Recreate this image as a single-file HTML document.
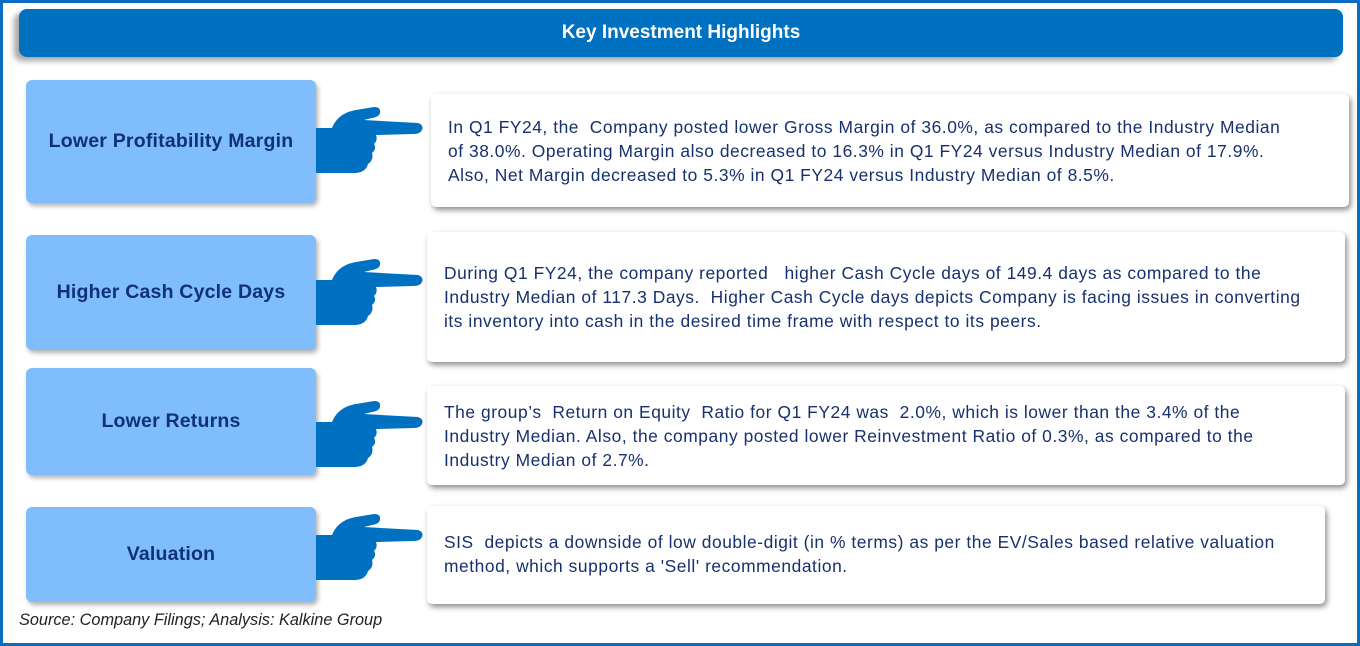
<!DOCTYPE html>
<html><head><meta charset="utf-8"><style>
body{margin:0;width:1360px;height:646px;background:#fff;font-family:"Liberation Sans",sans-serif;position:relative;overflow:hidden}
.frame{position:absolute;left:0;top:0;width:1354px;height:640px;border:3px solid #0a6cc0}
.hdr{position:absolute;left:19px;top:9px;width:1324px;height:48px;background:#0070c0;border-radius:8px;box-shadow:-5px 4px 6px rgba(0,0,0,.35);color:#fff;font-weight:bold;font-size:19px;text-align:center;line-height:48px}
.lb{position:absolute;left:26px;width:290px;background:#7fbdfc;border-radius:6px;box-shadow:2px 3px 5px rgba(0,0,0,.3);color:#10307a;font-weight:bold;font-size:19.5px;display:flex;align-items:center;justify-content:center;letter-spacing:0.2px}
.rb{position:absolute;background:#fff;border-radius:5px;box-shadow:2px 3px 6px rgba(0,0,0,.45);color:#17306e;font-size:17.4px;letter-spacing:0.55px;line-height:24px;padding-left:17px;padding-right:20px;box-sizing:border-box;display:flex;align-items:center;white-space:nowrap}
.hand{position:absolute;width:110px;height:70px}
.src{position:absolute;left:19px;top:611px;font-style:italic;font-size:16.3px;color:#222}
</style></head><body>
<div class="frame"></div>
<div class="hdr">Key Investment Highlights</div>

<div class="lb" style="top:80px;height:123px">Lower Profitability Margin</div>
<div class="lb" style="top:235px;height:115px">Higher Cash Cycle Days</div>
<div class="lb" style="top:368px;height:107px">Lower Returns</div>
<div class="lb" style="top:507px;height:95px">Valuation</div>

<svg class="hand" style="left:316px;top:106px" viewBox="0 0 110 70"><path fill="#0070c0" d="M0,22 L16,22 C20,12 28,6 40,4 L58,1 Q65,1 64,7 Q63,11 56,12 L48,14 L102,17 Q108,19 106,24 Q104,28 98,28 L60,29 Q62,34 58,38 Q61,43 56,47 Q58,54 52,58 Q50,66 40,67 L0,67 Z"/></svg>
<svg class="hand" style="left:316px;top:258px" viewBox="0 0 110 70"><path fill="#0070c0" d="M0,22 L16,22 C20,12 28,6 40,4 L58,1 Q65,1 64,7 Q63,11 56,12 L48,14 L102,17 Q108,19 106,24 Q104,28 98,28 L60,29 Q62,34 58,38 Q61,43 56,47 Q58,54 52,58 Q50,66 40,67 L0,67 Z"/></svg>
<svg class="hand" style="left:316px;top:400px" viewBox="0 0 110 70"><path fill="#0070c0" d="M0,22 L16,22 C20,12 28,6 40,4 L58,1 Q65,1 64,7 Q63,11 56,12 L48,14 L102,17 Q108,19 106,24 Q104,28 98,28 L60,29 Q62,34 58,38 Q61,43 56,47 Q58,54 52,58 Q50,66 40,67 L0,67 Z"/></svg>
<svg class="hand" style="left:316px;top:513px" viewBox="0 0 110 70"><path fill="#0070c0" d="M0,22 L16,22 C20,12 28,6 40,4 L58,1 Q65,1 64,7 Q63,11 56,12 L48,14 L102,17 Q108,19 106,24 Q104,28 98,28 L60,29 Q62,34 58,38 Q61,43 56,47 Q58,54 52,58 Q50,66 40,67 L0,67 Z"/></svg>

<div class="rb" style="left:431px;top:94px;width:918px;height:113px"><div>In Q1 FY24, the&nbsp; Company posted lower Gross Margin of 36.0%, as compared to the Industry Median<br>of 38.0%. Operating Margin also decreased to 16.3% in Q1 FY24 versus Industry Median of 17.9%.<br>Also, Net Margin decreased to 5.3% in Q1 FY24 versus Industry Median of 8.5%.</div></div>
<div class="rb" style="left:427px;top:232px;width:918px;height:130px"><div>During Q1 FY24, the company reported &nbsp; higher Cash Cycle days of 149.4 days as compared to the<br>Industry Median of 117.3 Days.&nbsp; Higher Cash Cycle days depicts Company is facing issues in converting<br>its inventory into cash in the desired time frame with respect to its peers.</div></div>
<div class="rb" style="left:427px;top:386px;width:918px;height:99px"><div>The group’s&nbsp; Return on Equity&nbsp; Ratio for Q1 FY24 was&nbsp; 2.0%, which is lower than the 3.4% of the<br>Industry Median. Also, the company posted lower Reinvestment Ratio of 0.3%, as compared to the<br>Industry Median of 2.7%.</div></div>
<div class="rb" style="left:427px;top:506px;width:898px;height:98px;align-items:flex-start;padding-top:24px"><div>SIS&nbsp; depicts a downside of low double-digit (in % terms) as per the EV/Sales based relative valuation<br>method, which supports a 'Sell' recommendation.</div></div>

<div class="src">Source: Company Filings; Analysis: Kalkine Group</div>
</body></html>
